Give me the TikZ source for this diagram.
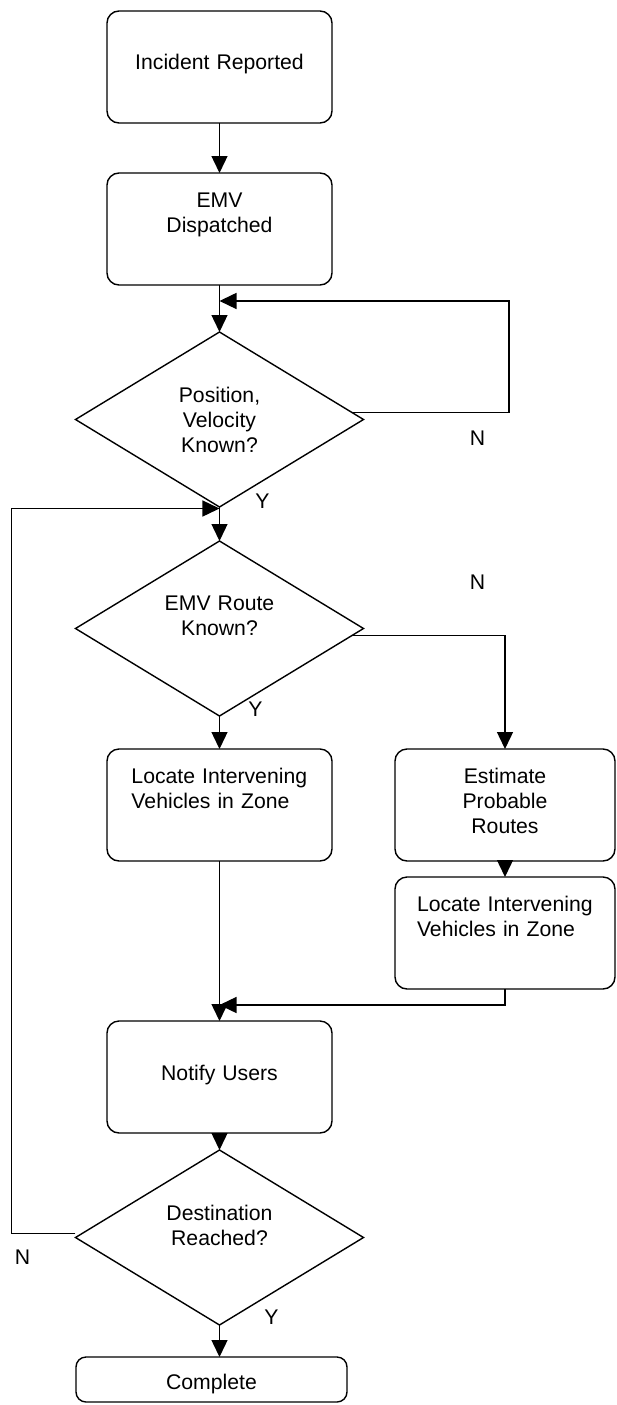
\documentclass[tikz,border=0pt]{standalone}
\usepackage{fontspec}
\setmainfont{Liberation Sans}
\usepackage{tikz}
\usetikzlibrary{calc,positioning,arrows.meta,shapes.geometric}
\tikzset{
>={Triangle[length=17pt,width=16pt]},
  myarrow/.style={draw, line width=1.4pt, ->},
}

\begin{document}
\begin{tikzpicture}[node distance=33pt]
    \tikzset{
        every node/.style={font=\fontsize{21.2pt}{25pt}\selectfont},
        action/.style={rectangle, rounded corners=12pt, draw=black, line width=1.4pt, inner sep=0pt, outer sep=0pt, minimum width=225pt, text width=176pt, align=center, text height=34pt, text depth=78pt},
        condition/.style={diamond, aspect=1.65, draw=black, line width=1.4pt, inner sep=0pt, outer sep=0pt, minimum width=288pt, minimum height=175pt, text width=120pt, align=center},
        answer/.style={inner sep=0pt},
    }
    \useasboundingbox (-219.5pt,67pt) rectangle (396.5pt,-1338pt);

    \node[action, text height=59pt, text depth=53pt] (stage1) {Incident Reported};
    \node[action, below=50pt of stage1] (stage2) {EMV\\Dispatched};
    \node[condition, below=47pt of stage2] (stage3) {Position,\\Velocity\\Known?};
    \node[condition, below=34pt of stage3] (stage4) {EMV Route\\Known?\\\mbox{}};
    \node[action, align=left, below=of stage4] (stage5) {Locate Intervening\\Vehicles in Zone};
      \node[action, minimum width=220pt, right=63pt of stage5] (stage6) {Estimate\\Probable\\Routes};
      \node[action, minimum width=220pt, align=left, below=16pt of stage6] (stage7) {Locate Intervening\\Vehicles in Zone};
    \node[action, text height=59pt, text depth=53pt, below=160pt of stage5] (stage8) {Notify Users};
    \node[condition, below=17pt of stage8] (stage9) {Destination\\Reached?\\\mbox{}};
    \node[action, minimum width=271pt, rounded corners=10pt, text height=32pt, text depth=13pt, below=32pt of stage9, xshift=-8pt] (stage10) {Complete};

    % answers next to the decisions
    \node[answer] (ansN1) at ($(stage3.east)+(114pt,-18.5pt)$) {N};
    \node[answer] (ansY1) at ($(stage3.south)+(43pt,6pt)$) {Y};
    \node[answer] (ansN2) at ($(stage4.east)+(114pt,46.5pt)$) {N};
    \node[answer] (ansY2) at ($(stage4.south)+(36pt,7pt)$) {Y};
    \node[answer] (ansN3) at ($(stage9.west)+(-53pt,-20pt)$) {N};
    \node[answer] (ansY3) at ($(stage9.south)+(52pt,8pt)$) {Y};

    \coordinate (AuxPoint01) at ($(stage2.south)!0.34!(stage3.north)$);
    \coordinate (AuxPoint02) at ($(stage3.south)+(0,-1.5pt)$);
    \coordinate (AuxPoint03) at ($(stage5.south)!0.9!(stage8.north)$);

    \path[myarrow] (stage1.south) -- (stage2.north);
    \path[myarrow] (stage2.south) -- (stage3.north);
    \path[myarrow] (stage3.3) -- ++(157pt,0) |- (AuxPoint01);
    \path[myarrow] (stage3.south) -- (stage4.north);
    \path[myarrow] (stage4.south) -- (stage5.north);
    \path[myarrow] (stage4.357) -| (stage6.north);
    \path[myarrow] (stage6.south) -- (stage7.north);
    \path[myarrow] (stage7.south) |- (AuxPoint03);
    \path[myarrow] (stage5.south) -- (stage8.north);
    \path[myarrow] (stage8.south) -- (stage9.north);
    \path[myarrow] ($(stage9.west)+(0,4pt)$) -- ++(-64pt,0) |- (AuxPoint02);
    \path[myarrow] (stage9.south) -- (stage9.south |- stage10.north);

    \end{tikzpicture}
\end{document}
